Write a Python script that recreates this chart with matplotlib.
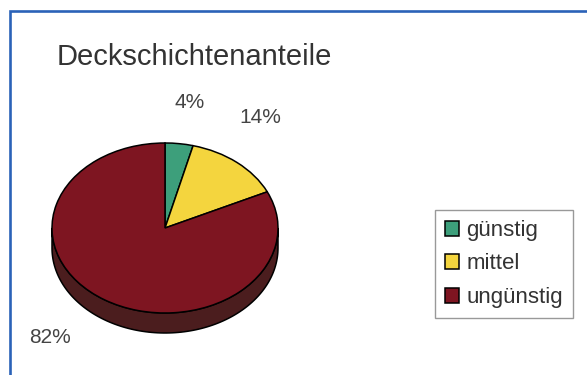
import matplotlib
matplotlib.use('Agg')
import matplotlib.pyplot as plt
from matplotlib.patches import Polygon, Rectangle
import numpy as np

plt.rcParams['font.family'] = ['Liberation Sans', 'DejaVu Sans']

categories = ['günstig', 'mittel', 'ungünstig']
shares = [4, 14, 82]

colors = ['#3d9f7b', '#f4d53e', '#7e1521']
side_colors = ['#27634c', '#9a8425', '#4b1d1e']
# label offsets from the rim midpoint of each wedge, in pixels
label_offsets = [(10, 41), (23, 45), (-54, -38)]

W, H = 587, 375
fig = plt.figure(figsize=(W / 100, H / 100), dpi=100)

# pie ellipse: centre and radii in pixels (from top left), depth of the disc
cx, cy = 165, 228
rx, ry = 113, 85
depth = 20 / ry

xl, yl = 1.4, 1.7
ax = fig.add_axes([(cx - xl * rx) / W, (H - cy - yl * ry) / H,
                   2 * xl * rx / W, 2 * yl * ry / H])

wedges, _ = ax.pie(shares, colors=colors, startangle=90, counterclock=False,
                   wedgeprops=dict(edgecolor='black', linewidth=1.1, zorder=3))
ax.set_aspect('auto')
ax.set_xlim(-xl, xl)
ax.set_ylim(-yl, yl)
ax.axis('off')

# side wall of the disc, only the front half (180..360 deg) is visible
for w, sc in zip(wedges, side_colors):
    for shift in (-360, 0, 360):
        lo = max(w.theta1 + shift, 180)
        hi = min(w.theta2 + shift, 360)
        if hi <= lo:
            continue
        t = np.radians(np.linspace(lo, hi, 120))
        top = np.column_stack([np.cos(t), np.sin(t)])
        bot = np.column_stack([np.cos(t[::-1]), np.sin(t[::-1]) - depth])
        ax.add_patch(Polygon(np.vstack([top, bot]), closed=True, facecolor=sc,
                             edgecolor='black', linewidth=1.1, zorder=2))

for w, s, off in zip(wedges, shares, label_offsets):
    mid = np.radians((w.theta1 + w.theta2) / 2)
    ax.annotate(f'{s}%', xy=(np.cos(mid), np.sin(mid)), xytext=off,
                textcoords='offset pixels', ha='center', va='center',
                fontsize=15, color='#444444', annotation_clip=False)

fig.text(57 / W, (H - 65) / H, 'Deckschichtenanteile', fontsize=21,
         color='#333333', ha='left', va='baseline')

leg = fig.legend(wedges, categories, loc='upper left',
                 bbox_to_anchor=(435 / W, 1 - 210 / H), fontsize=16,
                 frameon=True, fancybox=False, edgecolor='#808080',
                 handlelength=0.65, handleheight=0.65, handletextpad=0.3,
                 labelspacing=0.56, borderpad=0.45, borderaxespad=0)
leg.get_frame().set_linewidth(1.0)
for t in leg.get_texts():
    t.set_color('#333333')

# blue frame around the chart
fig.add_artist(Rectangle((9.5 / W, -0.1), 1.2, 0.1 + (H - 11) / H,
                         transform=fig.transFigure, fill=False,
                         edgecolor='#2b62b8', linewidth=1.9))

fig.savefig('out.png', dpi=100)
